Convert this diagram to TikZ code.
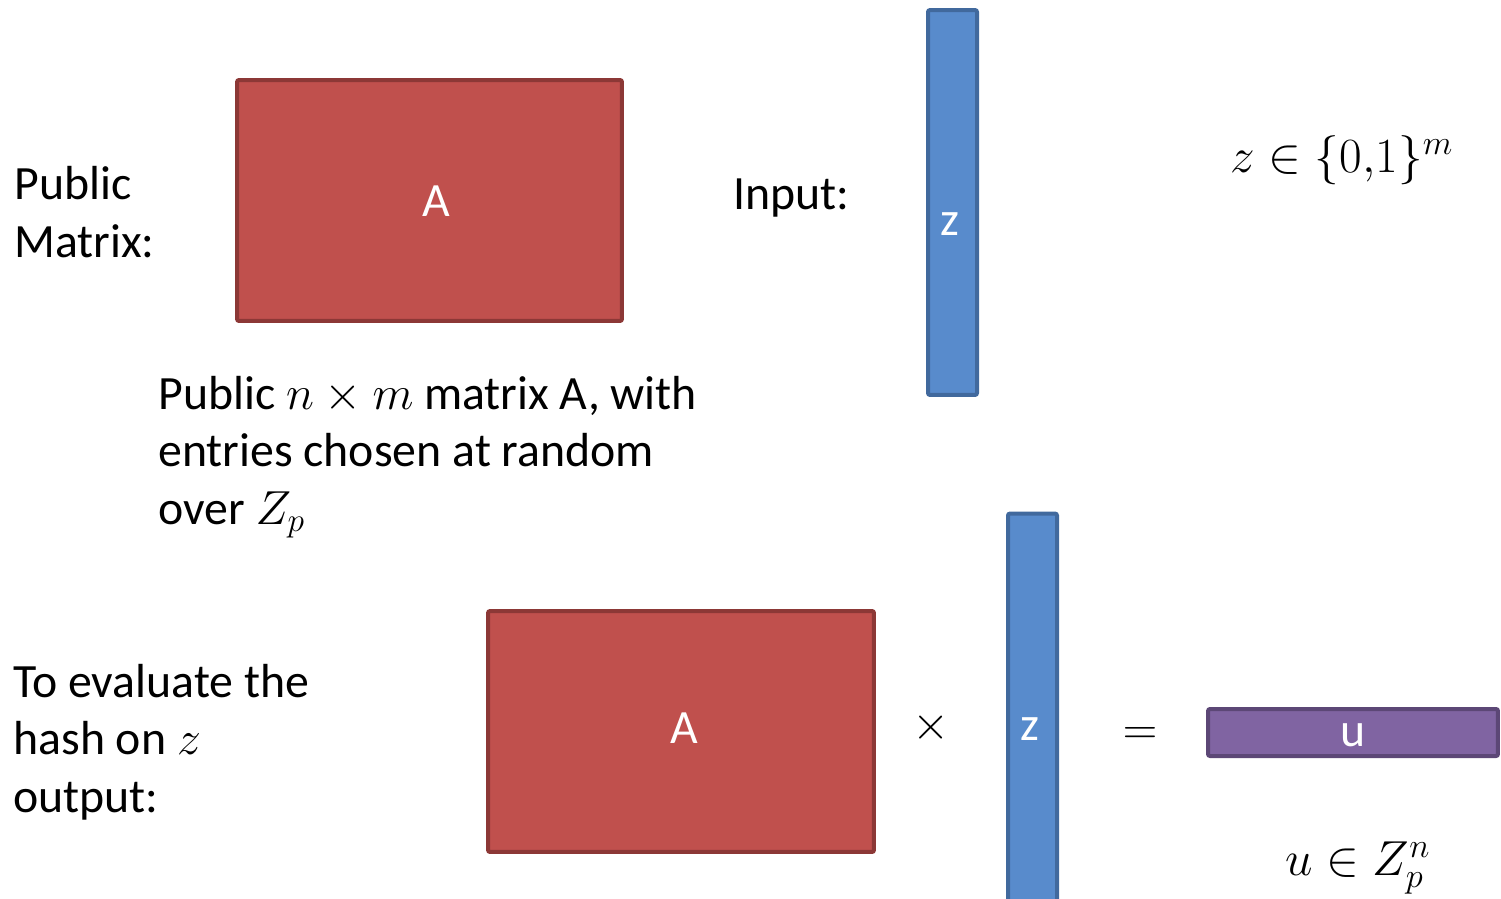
\documentclass[tikz,border=0pt]{standalone}
\usepackage{fix-cm}
\usepackage{fontspec}
\setmainfont{Carlito}
\definecolor{redfill}{HTML}{C0504D}
\definecolor{redline}{HTML}{8C3836}
\definecolor{bluefill}{HTML}{588BCC}
\definecolor{blueline}{HTML}{41699D}
\definecolor{purfill}{HTML}{8064A2}
\definecolor{purline}{HTML}{5C4776}
\tikzset{
  box/.style={rectangle, line width=0.08cm, rounded corners=0.04cm, inner sep=0pt, text=white},
  redbox/.style={box, fill=redfill, draw=redline},
  bluebox/.style={box, fill=bluefill, draw=blueline},
  purbox/.style={box, fill=purfill, draw=purline},
  txt/.style={anchor=base west, inner sep=0pt, font=\fontsize{27.2}{32.6}\selectfont, align=left},
  mtxt/.style={anchor=base west, inner sep=0pt, font=\fontsize{28}{34}\selectfont},
  ctxt/.style={anchor=center, inner sep=0pt, font=\fontsize{27.2}{32.6}\selectfont},
}
\begin{document}
\begin{tikzpicture}[x=0.02cm, y=-0.02cm]
\useasboundingbox (0,0) rectangle (1501,899);
\clip (0,0) rectangle (1501,899);
% top row
\node[redbox, minimum width=7.7cm, minimum height=4.82cm] (A1) at (429.5,200.5) {};
\node[ctxt, text=white] (A1t) at (436,201) {A};
\node[txt] (pm) at (14,257) {Public\\Matrix:};
\node[txt] (inp) at (733,209) {Input:};
\node[bluebox, minimum width=0.98cm, minimum height=7.7cm] (z1) at (952.5,202.5) {};
\node[ctxt, text=white] (z1t) at (950,224) {z};
\node[mtxt] (zset) at (1230,172) {$z \in \{0{,}1\}^m$};
\node[txt] (desc) at (158,524) {Public $n\times m$ matrix A, with\\entries chosen at random\\over $Z_p$};
% bottom row
\node[txt] (eval) at (13,812) {To evaluate the\\hash on $z$\\output:};
\node[redbox, minimum width=7.72cm, minimum height=4.82cm] (A2) at (681,731.5) {};
\node[ctxt, text=white] (A2t) at (684,728) {A};
\node[ctxt] (times) at (931,728) {$\times$};
\node[bluebox, minimum width=0.98cm, minimum height=7.9cm] (z2) at (1032.5,711) {};
\node[ctxt, text=white] (z2t) at (1030,729) {z};
\node[ctxt] (eq) at (1140,736) {$=$};
\node[purbox, minimum width=5.8cm, minimum height=0.94cm] (u) at (1353,732.5) {};
\node[ctxt, text=white] (ut) at (1353,735) {u};
\node[mtxt] (uset) at (1285,875) {$u \in Z_p^n$};
\end{tikzpicture}
\end{document}
